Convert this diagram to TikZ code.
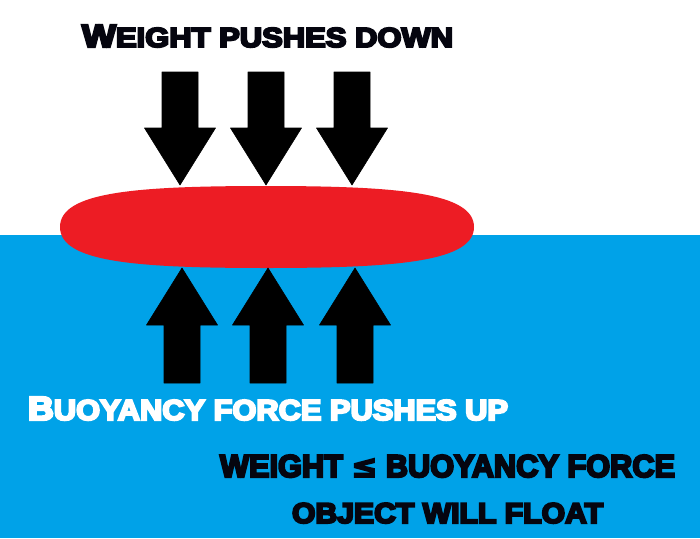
\documentclass[tikz,border=0pt]{standalone}
\usepackage{fontspec}
\usepackage{graphicx}
\newfontfamily\heavy{Liberation Sans}[BoldFeatures={FakeBold=7}]
\newfontfamily\symfont{DejaVu Sans}[BoldFeatures={FakeBold=5}]
\definecolor{water}{HTML}{00A2E8}
\definecolor{boat}{HTML}{ED1C24}
\definecolor{ink}{HTML}{05050F}
\definecolor{paper}{HTML}{FFFFFF}
\tikzset{
  label text/.style={inner sep=0pt, outer sep=0pt, anchor=north west},
  force/.style={fill=black, draw=black, line width=0.6pt, line join=round},
}
\newcommand{\downarrowat}[1]{%
  \fill[force] (#1-18,72) -- (#1+18,72) -- (#1+18,128) -- (#1+35.5,128) -- (#1,185) -- (#1-35.5,128) -- (#1-18,128) -- cycle;}
\newcommand{\uparrowat}[1]{%
  \fill[force] (#1-18,383) -- (#1+18,383) -- (#1+18,325) -- (#1+35.5,325) -- (#1,268) -- (#1-35.5,325) -- (#1-18,325) -- cycle;}
\begin{document}
\begin{tikzpicture}[x=1pt,y=-1pt]
\useasboundingbox (0,0) rectangle (700,538);
\fill[paper] (0,0) rectangle (700,538);
\fill[water] (0,235) rectangle (700,538);
% floating object
\fill[boat] (60,227) .. controls (60,192) and (135,186) .. (267,186)
  .. controls (400,186) and (474,193) .. (474,227)
  .. controls (474,261) and (400,268) .. (267,268)
  .. controls (135,268) and (60,262) .. (60,227) -- cycle;
% weight arrows
\downarrowat{180}
\downarrowat{266}
\downarrowat{352}
% buoyancy arrows
\uparrowat{182}
\uparrowat{268}
\uparrowat{355}
% texts
\node[label text, text=ink] (title) at (82,25)
  {\resizebox{371pt}{22pt}{\heavy\bfseries W\fontsize{8.6}{10}\selectfont EIGHT PUSHES DOWN}};
\node[label text, text=paper] (buoy) at (28,397)
  {\resizebox{480pt}{23pt}{\heavy\bfseries B\fontsize{8.6}{10}\selectfont UOYANCY FORCE PUSHES UP}};
\node[label text, text=ink] (rule) at (220,455)
  {\resizebox{455pt}{22pt}{\heavy\bfseries WEIGHT \smash{\symfont\bfseries ≤} BUOYANCY FORCE}};
\node[label text, text=ink] (float) at (292,503)
  {\resizebox{311pt}{20pt}{\heavy\bfseries OBJECT WILL FLOAT}};
\end{tikzpicture}
\end{document}
